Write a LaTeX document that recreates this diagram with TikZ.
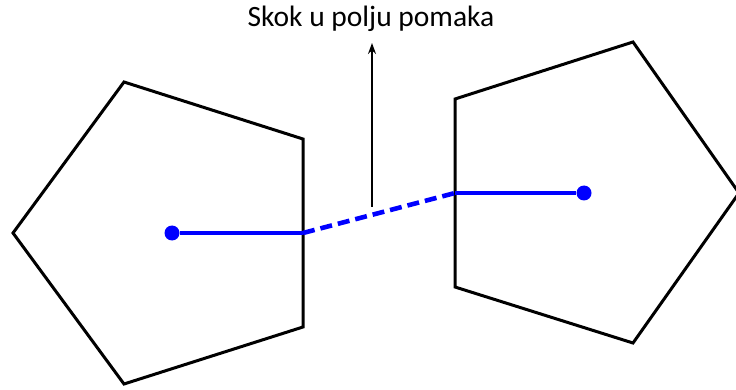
\documentclass[tikz,border=0pt]{standalone}
\usepackage{fontspec}
\setmainfont{Carlito}
\usetikzlibrary{arrows.meta}
\begin{document}
\begin{tikzpicture}[x=1pt,y=-1pt,
  cell/.style={draw=black,line width=3pt,line join=miter},
  disp/.style={draw=blue,line width=4.6pt},
  dot/.style={circle,fill=blue,inner sep=0pt,minimum size=15pt}]
\useasboundingbox (0,0) rectangle (736,390);
\coordinate (A1) at (124,82);
\coordinate (A2) at (303,139);
\coordinate (A3) at (303,327);
\coordinate (A4) at (124,384);
\coordinate (A5) at (13,233);
\coordinate (B1) at (455,99);
\coordinate (B2) at (633,42);
\coordinate (B3) at (739,193);
\coordinate (B4) at (633,343);
\coordinate (B5) at (455,287);
\draw[cell] (A1) -- (A2) -- (A3) -- (A4) -- (A5) -- cycle;
\draw[cell] (B1) -- (B2) -- (B3) -- (B4) -- (B5) -- cycle;
\node[dot] (P) at (172,233) {};
\node[dot] (Q) at (584,193) {};
\coordinate (J1) at (303,233);
\coordinate (J2) at (455,193);
\draw[disp] (P) -- (J1);
\draw[disp,dash pattern=on 12pt off 6pt] (J1) -- (J2);
\draw[disp] (J2) -- (Q);
\node (label) at (371,19) {\fontsize{29.5}{32}\selectfont Skok u polju pomaka};
\coordinate (jump) at (372,207);
\coordinate (tip) at (372,43);
\draw[line width=1.5pt,-{Stealth[length=11pt,width=8pt]}] (jump) -- (tip);
\end{tikzpicture}
\end{document}
